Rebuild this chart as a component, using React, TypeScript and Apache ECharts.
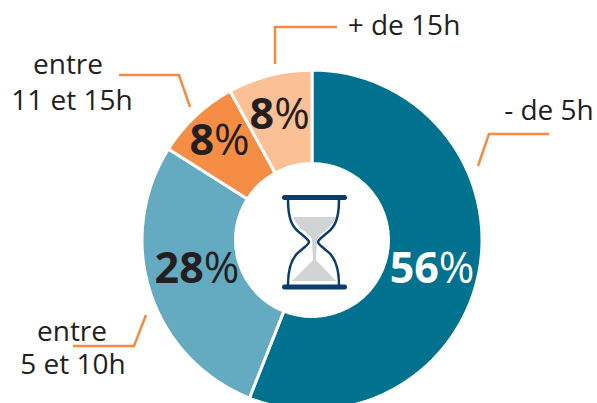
import React, { useEffect, useRef } from "react";
import * as echarts from "echarts";

const categories = ["- de 5h", "entre 5 et 10h", "entre 11 et 15h", "+ de 15h"];
const values = [56, 28, 8, 8];
const sliceColors = ["#00718F", "#64ABC2", "#F68D45", "#FBC096"];
const valueColors = ["#FFFFFF", "#231F20", "#231F20", "#231F20"];
const labelShift = [[-4, 3], [5, -13], [-6, -9], [-1, -5]];
const FONT = "'Open Sans', 'Noto Sans', sans-serif";
const INK = "#231F20";
const ORANGE = "#F58A42";
const NAVY = "#0B3C6B";

const glassPath =
  "M6 2 C6 22 10 30 18 36 C24 41 27 43 27 45 C27 47 24 49 18 54 C10 60 6 70 6 88 " +
  "M57 2 C57 22 53 30 45 36 C39 41 36 43 36 45 C36 47 39 49 45 54 C53 60 57 70 57 88";
const sandPath =
  "M11 20 L54 20 C50 30 42 34 37 39 L35 42 L34 63 L54 84 L10 84 L31 63 L30 42 L28 39 C23 34 15 30 11 20 Z";

echarts.graphic.registerShape("glassCurve", echarts.graphic.extendPath(glassPath, {}) as any);
echarts.graphic.registerShape("sandFill", echarts.graphic.extendPath(sandPath, {}) as any);

function txt(text: string, x: number, y: number) {
  return {
    type: "text",
    x,
    y,
    style: { text, fill: INK, font: `28px ${FONT}`, lineHeight: 30, align: "center", verticalAlign: "middle" },
  };
}
function leader(points: number[][]) {
  return {
    type: "polyline",
    shape: { points },
    style: { stroke: ORANGE, lineWidth: 2.5, fill: "none" },
  };
}

export default function App() {
  const ref = useRef<HTMLDivElement>(null);
  useEffect(() => {
    document.body.style.margin = "0";
    const chart = echarts.init(ref.current!, undefined, { renderer: "svg" });
    chart.setOption({
      animation: false,
      series: [
        {
          type: "pie",
          center: [312, 240],
          radius: [76.5, 170],
          startAngle: 90,
          clockwise: true,
          silent: true,
          itemStyle: { borderColor: "#FFFFFF", borderWidth: 3 },
          labelLine: { show: false },
          labelLayout: (p: any) => ({ dx: labelShift[p.dataIndex][0], dy: labelShift[p.dataIndex][1] }),
          data: categories.map((name, i) => ({
            name,
            value: values[i],
            itemStyle: { color: sliceColors[i] },
            label: {
              show: true,
              position: "inside",
              formatter: `{b|${values[i]}}{p|%}`,
              rich: {
                b: { fontFamily: FONT, fontWeight: 700, fontSize: 43, color: valueColors[i] },
                p: { fontFamily: FONT, fontWeight: 400, fontSize: 43, color: valueColors[i] },
              },
            },
          })),
        },
      ],
      graphic: {
        elements: [
          txt("- de 5h", 549, 109),
          txt("+ de 15h", 404, 24),
          txt("entre", 68, 63),
          txt("11 et 15h", 72, 99),
          txt("entre", 72, 330),
          txt("5 et 10h", 73, 363),
          leader([[478, 166], [489, 134], [549, 134]]),
          leader([[275, 64], [275, 27], [337, 27]]),
          leader([[190, 107], [179, 75], [119, 75]]),
          leader([[146, 315], [134, 346], [73, 346]]),
          { type: "sandFill", x: 282, y: 197, style: { fill: "#D1D3D4" } },
          { type: "glassCurve", x: 282, y: 197, style: { stroke: NAVY, lineWidth: 2.5, fill: "none" } },
          { type: "rect", shape: { x: 282, y: 195, width: 65, height: 5, r: 2.5 }, style: { fill: NAVY } },
          { type: "rect", shape: { x: 282, y: 284.5, width: 65, height: 5, r: 2.5 }, style: { fill: NAVY } },
        ],
      },
    });
    return () => chart.dispose();
  }, []);
  return <div ref={ref} style={{ width: 597, height: 403 }} />;
}
